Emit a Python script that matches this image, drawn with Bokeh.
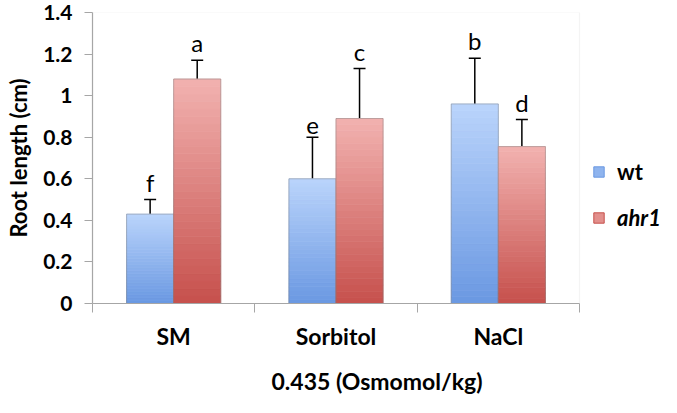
from bokeh.plotting import figure
from bokeh.models import (Range1d, FixedTicker, ColumnDataSource, Whisker, TeeHead,
                          Legend, LegendItem, CustomJSTickFormatter, BoxAnnotation)
from bokeh.core.properties import value
from bokeh.embed import file_html
from bokeh.resources import INLINE

categories = ["SM", "Sorbitol", "NaCl"]
wt_values = [0.43, 0.60, 0.96]
wt_errors = [0.07, 0.20, 0.22]
ahr1_values = [1.08, 0.89, 0.755]
ahr1_errors = [0.09, 0.24, 0.13]
wt_letters = ["f", "e", "b"]
ahr1_letters = ["a", "c", "d"]
y_ticks = [0, 0.2, 0.4, 0.6, 0.8, 1.0, 1.2, 1.4]

FONT = "Lato"
BW = 0.29
W, H = 661, 397
LEFT = 92
PLOT_W = 487            # width of the chart's plot area in px
n = len(categories)
x_end = n * (W - LEFT) / PLOT_W   # extend frame to the right to hold the legend

p = figure(width=W, height=H, output_backend="svg", toolbar_location=None,
           x_range=Range1d(0, x_end), y_range=Range1d(0, 1.4),
           min_border_left=LEFT, min_border_right=0, min_border_top=12, min_border_bottom=92)
p.xgrid.visible = False
p.ygrid.visible = False
p.outline_line_color = None

# plot-area border (light gray)
p.add_layout(BoxAnnotation(left=0, right=n, bottom=0, top=1.4, fill_alpha=0,
                           line_color="#d9d9d9", line_width=1.2, level="underlay"))


def lerp(c1, c2, t):
    return "#%02x%02x%02x" % tuple(int(round(a + (b - a) * t)) for a, b in zip(c1, c2))


def gradient_bars(lefts, rights, tops, top_col, bot_col, steps=30):
    L, R, B, T, C = [], [], [], [], []
    for l, r, h in zip(lefts, rights, tops):
        for k in range(steps):
            L.append(l); R.append(r)
            B.append(h * k / steps); T.append(h * (k + 1) / steps)
            C.append(lerp(bot_col, top_col, (k + 0.5) / steps))
    p.quad(left=L, right=R, bottom=B, top=T, fill_color=C, line_color=C, line_width=0.8)
    p.quad(left=lefts, right=rights, bottom=[0] * len(tops), top=tops,
           fill_color=None, line_color="#7f7f7f", line_alpha=0.45, line_width=1)


centers = [i + 0.5 for i in range(n)]
wt_l = [c - BW for c in centers]
wt_r = centers
ah_l = centers
ah_r = [c + BW for c in centers]

gradient_bars(wt_l, wt_r, wt_values, (186, 212, 251), (106, 152, 226))
gradient_bars(ah_l, ah_r, ahr1_values, (242, 178, 176), (198, 80, 76))

for xs_c, vals, errs, letters in [
    ([c - BW / 2 for c in centers], wt_values, wt_errors, wt_letters),
    ([c + BW / 2 for c in centers], ahr1_values, ahr1_errors, ahr1_letters),
]:
    src = ColumnDataSource(dict(x=xs_c, lo=vals, hi=[v + e for v, e in zip(vals, errs)], t=letters))
    w = Whisker(source=src, base="x", lower="lo", upper="hi", line_color="black", line_width=1.5,
                upper_head=TeeHead(size=12, line_color="black", line_width=1.5), lower_head=None)
    p.add_layout(w)
    p.text(x="x", y="hi", text="t", source=src, text_align="center", text_baseline="bottom",
           y_offset=-3, text_font=value(FONT), text_font_size="24px", text_color="black")

# x axis
xa = p.xaxis[0]
xa.bounds = (0, n)
xa.ticker = FixedTicker(ticks=centers, minor_ticks=list(range(n + 1)))
xa.major_label_overrides = {c: name for c, name in zip(centers, categories)}
xa.major_tick_line_color = None
xa.minor_tick_in = 0
xa.minor_tick_out = 9
xa.minor_tick_line_color = "#a6a6a6"
xa.axis_line_color = "#a6a6a6"
xa.axis_line_width = 1.2
xa.major_label_text_font = FONT
xa.major_label_text_font_style = "bold"
xa.major_label_text_font_size = "23px"
xa.major_label_text_color = "black"
xa.major_label_standoff = 9
xa.axis_label = "0.435 (Osmomol/kg)"
xa.axis_label_text_font = FONT
xa.axis_label_text_font_style = "bold"
xa.axis_label_text_font_size = "23px"
xa.axis_label_text_color = "black"
xa.axis_label_standoff = 14

# y axis
ya = p.yaxis[0]
ya.ticker = FixedTicker(ticks=y_ticks, minor_ticks=[])
ya.formatter = CustomJSTickFormatter(code="return tick.toFixed(1).replace(/\\.0$/, '');")
ya.major_tick_in = 0
ya.major_tick_out = 8
ya.major_tick_line_color = "#a6a6a6"
ya.axis_line_color = "#a6a6a6"
ya.axis_line_width = 1.2
ya.major_label_text_font = FONT
ya.major_label_text_font_style = "bold"
ya.major_label_text_font_size = "21px"
ya.major_label_text_color = "black"
ya.major_label_standoff = 12
ya.axis_label = "Root length (cm)"
ya.axis_label_text_font = FONT
ya.axis_label_text_font_style = "bold"
ya.axis_label_text_font_size = "22px"
ya.axis_label_text_color = "black"
ya.axis_label_standoff = 8

# legend (two legends, so that ahr1 can be italic); swatches drawn by off-screen quads
r_wt = p.quad(left=[-5], right=[-4], bottom=[-5], top=[-4], fill_color="#8fb4ee",
              line_color="#6a98e2")
r_ah = p.quad(left=[-5], right=[-4], bottom=[-5], top=[-4], fill_color="#e28f8c",
              line_color="#c6504c")
for rend, lab, style, yloc in [(r_wt, "wt", "bold", 118), (r_ah, "ahr1", "bold italic", 72)]:
    lg = Legend(items=[LegendItem(label=lab, renderers=[rend])], location=(500, yloc),
                padding=0, margin=0, border_line_color=None, background_fill_alpha=0,
                glyph_width=13, glyph_height=13, label_height=24, label_standoff=12,
                label_text_font=FONT, label_text_font_style=style, label_text_font_size="22px",
                label_text_color="black")
    p.add_layout(lg)

open("out.html", "w").write(file_html(p, INLINE))
